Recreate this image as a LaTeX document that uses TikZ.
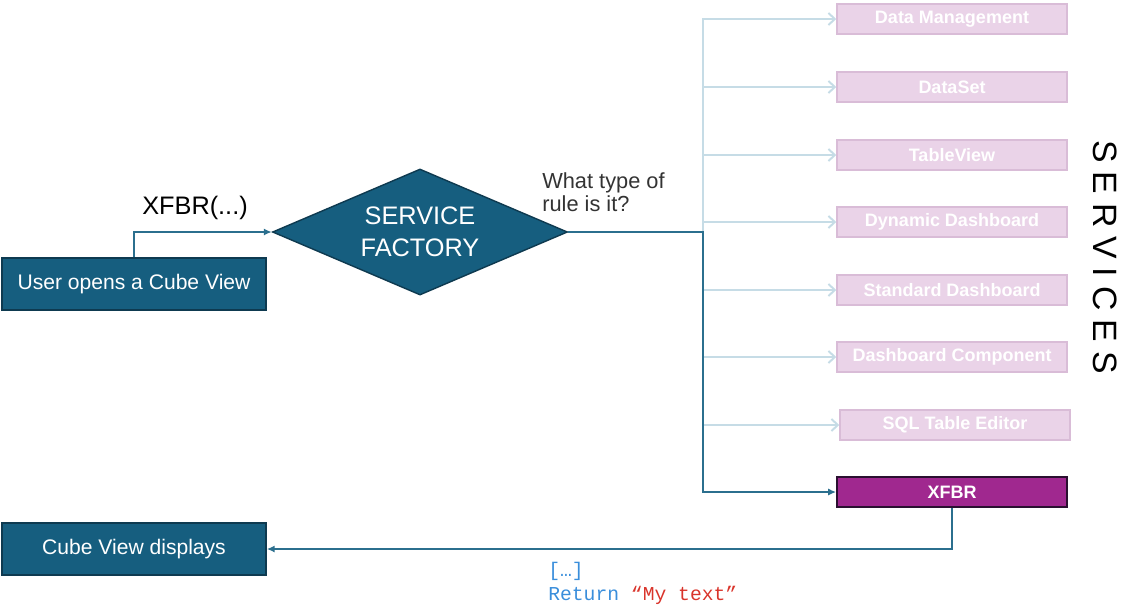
\documentclass[tikz,border=0pt]{standalone}
\usepackage{fontspec}
\setmainfont{Liberation Sans}
\setmonofont{Liberation Mono}
\usetikzlibrary{shapes.geometric,arrows.meta}
\definecolor{teal}{HTML}{165E7F}
\definecolor{tealdark}{HTML}{0E3A50}
\definecolor{flowblue}{HTML}{2B6F8E}
\definecolor{lightblue}{HTML}{C6DCE6}
\definecolor{pinkfill}{HTML}{EAD3E8}
\definecolor{pinkdraw}{HTML}{D9BCD7}
\definecolor{xfbrfill}{HTML}{A0288F}
\definecolor{xfbrdraw}{HTML}{2A1030}
\definecolor{codeblue}{HTML}{3A8EDB}
\definecolor{codered}{HTML}{D9342B}
\tikzstyle{process} = [rectangle, minimum width=6.6cm, minimum height=1.3cm, fill=teal, draw=tealdark, line width=1pt, text=white, font=\fontsize{15}{18}\selectfont]
\tikzstyle{decision} = [diamond, aspect=2.34, minimum width=7.375cm, minimum height=3.15cm, inner sep=0, fill=teal, draw=tealdark, line width=1pt, text=white, align=center, font=\fontsize{18}{23}\selectfont]
\tikzstyle{service} = [rectangle, minimum width=5.75cm, minimum height=0.75cm, fill=pinkfill, draw=pinkdraw, line width=1pt, text=white, font=\fontsize{12.8}{15}\selectfont\bfseries]
\tikzstyle{chosen} = [service, fill=xfbrfill, draw=xfbrdraw, line width=1.2pt]
\tikzstyle{flow} = [flowblue, line width=1.4pt, -{Latex[length=2mm,width=1.8mm]}]
\tikzstyle{branch} = [lightblue, line width=1.4pt, -{Straight Barb[length=1.6mm,width=3mm]}]

\begin{document}
\begin{tikzpicture}[x=0.025cm,y=-0.025cm]
\useasboundingbox (0,0) rectangle (1123,608);

    % Left side: start and end
    \node (opens) at (134,284) [process] {User opens a Cube View};
    \node (displays) at (134,549) [process] {Cube View displays};

    % Service factory
    \node (factory) at (420,232) [decision] {SERVICE\\FACTORY};
    \node (call) at (195,208) [font=\fontsize{18}{22}\selectfont] {XFBR(...)};
    \node (question) at (542,172) [anchor=north west, align=left, inner sep=0, text=black!80, font=\fontsize{15.5}{17}\selectfont] {What type of\\rule is it?};
    \coordinate (split) at (703,232);

    % Services
    \node (datamgmt) at (952,19) [service] {Data Management};
    \node (dataset) at (952,87) [service] {DataSet};
    \node (tableview) at (952,155) [service] {TableView};
    \node (dyndash) at (952,222) [service] {Dynamic Dashboard};
    \node (stddash) at (952,290) [service] {Standard Dashboard};
    \node (dashcomp) at (952,357) [service] {Dashboard Component};
    \node (sqleditor) at (955,425) [service] {SQL Table Editor};
    \node (xfbr) at (952,492) [chosen] {XFBR};

    \node (services) at (1105,257) [rotate=-90, font=\fontsize{24}{28}\selectfont\addfontfeature{LetterSpace=27}] {SERVICES};

    % Branches to the services
    \foreach \svc in {datamgmt,dataset,tableview,dyndash,stddash,dashcomp,sqleditor}
        \draw[branch] (split) |- (\svc.west);

    % Path actually taken
    \draw[flow] (opens.north) |- (factory.west);
    \draw[flow] (factory.east) -- (split) |- (xfbr.west);
    \draw[flow] (xfbr.south) |- (displays.east);

    % Returned value
    \node (result) at (548,562) [anchor=north west, align=left, inner sep=0, font=\ttfamily\fontsize{14}{17}\selectfont] {\textcolor{codeblue}{[…]}\\\textcolor{codeblue}{Return} \textcolor{codered}{“My text”}};

\end{tikzpicture}
\end{document}
